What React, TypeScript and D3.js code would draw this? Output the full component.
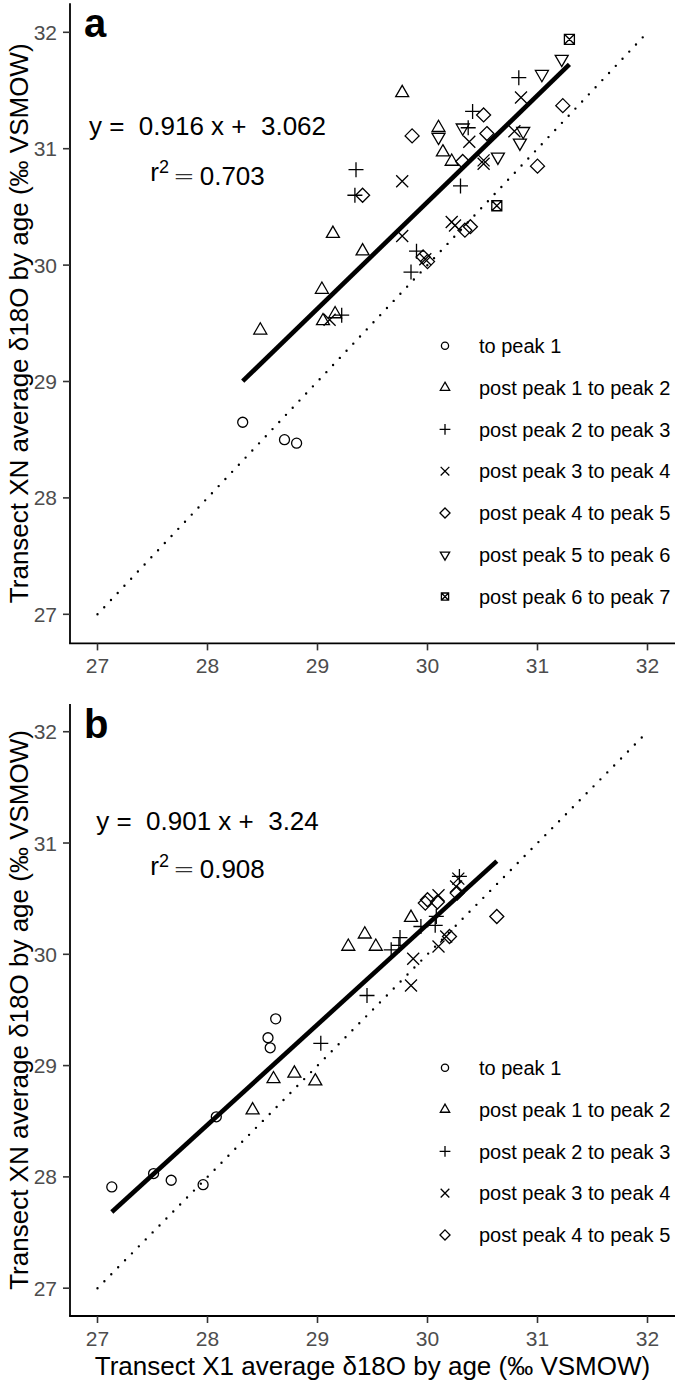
import React from 'react';
import * as d3 from 'd3';

// ---------- data ----------
const groupsA = [
  'to peak 1',
  'post peak 1 to peak 2',
  'post peak 2 to peak 3',
  'post peak 3 to peak 4',
  'post peak 4 to peak 5',
  'post peak 5 to peak 6',
  'post peak 6 to peak 7',
];
const groupsB = groupsA.slice(0, 5);
const shapeKinds = ['circle', 'triangle', 'plus', 'cross', 'diamond', 'triangleDown', 'squareCross'];

const axisTicks = [27, 28, 29, 30, 31, 32];

// panel a
const a1 = [[28.32, 28.65], [28.70, 28.50], [28.81, 28.47]];
const a2 = [[28.48, 29.44], [29.05, 29.52], [29.16, 29.58], [29.04, 29.79], [29.14, 30.27], [29.41, 30.12], [29.77, 31.48], [30.10, 31.18], [30.14, 30.97], [30.22, 30.89]];
const a3 = [[29.22, 29.57], [29.35, 30.82], [29.34, 30.60], [29.90, 30.12], [29.85, 29.94], [30.30, 30.68], [30.37, 31.18], [30.41, 31.32], [30.83, 31.61]];
const a4 = [[29.11, 29.53], [29.77, 30.72], [29.77, 30.25], [29.98, 30.05], [30.22, 30.37], [30.25, 30.34], [30.38, 31.06], [30.51, 30.90], [30.51, 30.87], [30.79, 31.15], [30.85, 31.44]];
const a5 = [[29.41, 30.60], [29.86, 31.11], [29.96, 30.07], [30.00, 30.03], [30.32, 30.89], [30.34, 30.30], [30.39, 30.33], [30.51, 31.29], [30.54, 31.13], [31.00, 30.85], [31.23, 31.37]];
const a6 = [[30.10, 31.10], [30.32, 31.18], [30.64, 30.93], [30.84, 31.05], [30.87, 31.15], [31.04, 31.64], [31.22, 31.77]];
const a7 = [[30.63, 30.51], [31.29, 31.94]];

// panel b
const b1 = [[27.13, 27.91], [27.51, 28.03], [27.67, 27.97], [27.96, 27.93], [28.08, 28.54], [28.55, 29.25], [28.57, 29.16], [28.62, 29.42]];
const b2 = [[28.41, 28.60], [28.60, 28.88], [28.79, 28.93], [28.98, 28.86], [29.28, 30.07], [29.43, 30.18], [29.53, 30.07], [29.85, 30.33]];
const b3 = [[29.03, 29.20], [29.45, 29.63], [29.67, 30.04], [29.75, 30.15], [29.74, 30.08], [29.94, 30.25], [30.07, 30.26], [30.08, 30.34], [30.29, 30.70]];
const b4 = [[29.85, 29.72], [29.87, 29.96], [30.10, 30.07], [30.10, 30.53], [30.17, 30.16], [30.26, 30.61], [30.28, 30.68]];
const b5 = [[29.98, 30.46], [30.00, 30.49], [30.09, 30.47], [30.20, 30.16], [30.27, 30.55], [30.63, 30.34]];

const fitA = { slope: 0.916, intercept: 3.062, r2: '0.703', eq: 'y =  0.916 x +  3.062' };
const fitB = { slope: 0.901, intercept: 3.24, r2: '0.908', eq: 'y =  0.901 x +  3.24' };

const yTitle = 'Transect XN average δ18O by age (‰ VSMOW)';
const xTitle = 'Transect X1 average δ18O by age (‰ VSMOW)';

// ---------- drawing ----------
const FONT = 'Liberation Sans, Arial, Helvetica, sans-serif';

function Shape({ kind, x, y, s }: { kind: string; x: number; y: number; s: number }) {
  const st = { fill: 'none', stroke: '#000', strokeWidth: 1.3 } as any;
  if (kind === 'circle') return <circle cx={x} cy={y} r={5 * s} {...st} />;
  if (kind === 'triangle' || kind === 'triangleDown') {
    const r = 7.5 * s;
    const d = kind === 'triangle' ? 1 : -1;
    const pts = [[x, y - d * r], [x + 0.866 * r, y + d * r / 2], [x - 0.866 * r, y + d * r / 2]];
    return <path d={'M' + pts.map((p) => p.join(',')).join('L') + 'Z'} {...st} />;
  }
  if (kind === 'plus') {
    const r = 7.5 * s;
    return <path d={`M${x - r},${y}H${x + r}M${x},${y - r}V${y + r}`} {...st} />;
  }
  if (kind === 'cross') {
    const r = 6 * s;
    return <path d={`M${x - r},${y - r}L${x + r},${y + r}M${x - r},${y + r}L${x + r},${y - r}`} {...st} />;
  }
  if (kind === 'diamond') {
    const r = 7 * s;
    return <path d={`M${x},${y - r}L${x + r},${y}L${x},${y + r}L${x - r},${y}Z`} {...st} />;
  }
  // squareCross
  const r = 5 * s;
  return (
    <path
      d={`M${x - r},${y - r}H${x + r}V${y + r}H${x - r}Z M${x - r},${y - r}L${x + r},${y + r}M${x - r},${y + r}L${x + r},${y - r}`}
      {...st}
    />
  );
}

function Panel({ top, bottom, series, groups, fit, label, showXTitle }: any) {
  const x = d3.scaleLinear().domain([26.75, 32.25]).range([70, 675]);
  const y = d3.scaleLinear().domain([26.75, 32.25]).range([bottom, top]);
  const line = d3.line<number[]>().x((d) => x(d[0])).y((d) => y(d[1]));
  const allX = series.flat().map((p: number[]) => p[0]);
  const [minX, maxX] = d3.extent(allX) as [number, number];
  const fitPts = [minX, maxX].map((v) => [v, fit.slope * v + fit.intercept]);
  const idPts = [[27, 27], [32, 32]];
  const rowH = 41.8;
  const legCenter = top + 0.731 * (bottom - top);
  const legTop = legCenter - ((groups.length - 1) * rowH) / 2;
  const midY = (top + bottom) / 2;
  return (
    <g>
      {/* 1:1 dotted line */}
      <path d={line(idPts as any) || ''} fill="none" stroke="#000" strokeWidth={2.4} strokeLinecap="round" strokeDasharray="0 9.8" />
      {/* regression line */}
      <path d={line(fitPts as any) || ''} fill="none" stroke="#000" strokeWidth={4.6} />
      {/* points */}
      {series.map((pts: number[][], gi: number) =>
        pts.map((p, i) => <Shape key={gi + '-' + i} kind={shapeKinds[gi]} x={x(p[0])} y={y(p[1])} s={1} />)
      )}
      {/* axes */}
      <line x1={x(26.75)} x2={x(26.75)} y1={top} y2={bottom} stroke="#000" strokeWidth={1.8} />
      <line x1={x(26.75) - 0.9} x2={x(32.25)} y1={bottom} y2={bottom} stroke="#000" strokeWidth={1.8} />
      {axisTicks.map((t) => (
        <g key={'y' + t}>
          <line x1={x(26.75) - 7} x2={x(26.75)} y1={y(t)} y2={y(t)} stroke="#333" strokeWidth={1.6} />
          <text x={x(26.75) - 13} y={y(t)} dy="0.36em" textAnchor="end" fontSize={21} fill="#4D4D4D" fontFamily={FONT}>
            {t}
          </text>
        </g>
      ))}
      {axisTicks.map((t) => (
        <g key={'x' + t}>
          <line x1={x(t)} x2={x(t)} y1={bottom} y2={bottom + 7} stroke="#333" strokeWidth={1.6} />
          <text x={x(t)} y={bottom + 22} dy="0.36em" textAnchor="middle" fontSize={21} fill="#4D4D4D" fontFamily={FONT}>
            {t}
          </text>
        </g>
      ))}
      {/* y title */}
      <text
        transform={`translate(19,${midY}) rotate(-90)`}
        textAnchor="middle"
        dy="0.36em"
        fontSize={26}
        fill="#000"
        fontFamily={FONT}
      >
        {yTitle}
      </text>
      {showXTitle && (
        <text x={(x(26.75) + x(32.25)) / 2} y={bottom + 50} dy="0.36em" textAnchor="middle" fontSize={26} fill="#000" fontFamily={FONT}>
          {xTitle}
        </text>
      )}
      {/* panel label */}
      <text x={84} y={top + 34} fontSize={40} fontWeight="bold" fill="#000" fontFamily={FONT}>
        {label}
      </text>
      {/* equation */}
      <text x={x(28)} y={y(31.2)} dy="0.36em" textAnchor="middle" fontSize={26} fill="#000" fontFamily={FONT} style={{ whiteSpace: 'pre' }}>
        {fit.eq}
      </text>
      <text x={x(28)} y={y(30.8)} dy="0.36em" textAnchor="middle" fontSize={26} fill="#000" fontFamily={FONT} style={{ whiteSpace: 'pre' }}>
        <tspan>r</tspan>
        <tspan dy="-0.45em" fontSize={18}>2</tspan>
        <tspan dy="0.45em" dx={4} fontFamily="DejaVu Sans" fontWeight={200} fill="#333">=</tspan>
        <tspan dx={5}>{fit.r2}</tspan>
      </text>
      {/* legend */}
      {groups.map((g: string, i: number) => (
        <g key={'leg' + i}>
          <Shape kind={shapeKinds[i]} x={445} y={legTop + i * rowH} s={0.72} />
          <text x={479} y={legTop + i * rowH} dy="0.36em" fontSize={20} fill="#000" fontFamily={FONT}>
            {g}
          </text>
        </g>
      ))}
    </g>
  );
}

export default function App() {
  return (
    <svg
      width={685}
      height={1383}
      viewBox="0 0 685 1383"
      style={{ position: 'absolute', left: 0, top: 0, background: '#fff' }}
    >
      <rect width={685} height={1383} fill="#fff" />
      <Panel top={3.2} bottom={643.4} series={[a1, a2, a3, a4, a5, a6, a7]} groups={groupsA} fit={fitA} label="a" showXTitle={false} />
      <Panel top={703.9} bottom={1316} series={[b1, b2, b3, b4, b5]} groups={groupsB} fit={fitB} label="b" showXTitle={true} />
    </svg>
  );
}
